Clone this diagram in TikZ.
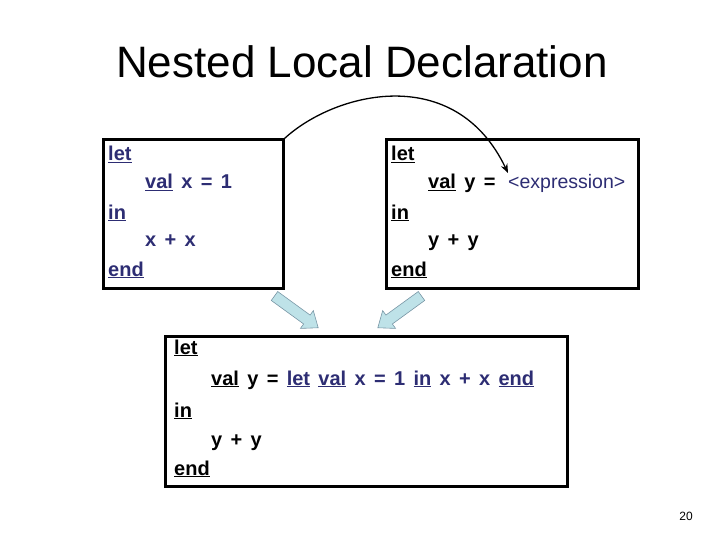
\documentclass[tikz,border=0pt]{standalone}
\usepackage{fontspec}
\setmainfont{Liberation Sans}
\newfontfamily\codefont[WordSpace=1.5]{Liberation Sans}
\usetikzlibrary{arrows.meta}
\definecolor{navy}{RGB}{45,45,115}
\definecolor{arrowfill}{RGB}{190,226,232}
\definecolor{arrowdraw}{RGB}{120,150,165}
\newcommand{\kw}[1]{\underline{#1}}
\tikzset{
  codebox/.style={draw=black, line width=3pt, minimum width=#1, inner sep=0pt, anchor=north west},
  code/.style={anchor=base west, inner sep=0pt, font=\codefont\bfseries\fontsize{20}{22}\selectfont},
  blockarrow/.style={fill=arrowfill, draw=arrowdraw, line width=0.6pt, line join=miter},
  link/.style={line width=1.3pt, -{Stealth[length=9pt,width=7pt]}}
}
\begin{document}
\begin{tikzpicture}[x=1pt,y=-1pt]
\useasboundingbox (0,0) rectangle (720,540);
% title
\node[anchor=base, inner sep=0pt, font=\fontsize{44}{50}\selectfont] (title) at (362,78) {Nested Local Declaration};
% left box
\node[codebox=180pt, minimum height=148pt] (lbox) at (101.5,138.5) {};
\node[code, text=navy] (l1) at (108,161) {\kw{let}};
\node[code, text=navy] (l2) at (145,189) {\kw{val} x = 1};
\node[code, text=navy] (l3) at (108,219) {\kw{in}};
\node[code, text=navy] (l4) at (145,247) {x + x};
\node[code, text=navy] (l5) at (108,276) {\kw{end}};
% right box
\node[codebox=252pt, minimum height=148pt] (rbox) at (384.5,138.5) {};
\node[code] (r1) at (391,161) {\kw{let}};
\node[code] (r2) at (428,189) {\kw{val} y = };
\node[anchor=base west, inner sep=0pt, text=navy, font=\fontsize{19.5}{22}\selectfont] (expr) at (508,189) {<expression>};
\node[code] (r3) at (391,219) {\kw{in}};
\node[code] (r4) at (428,247) {y + y};
\node[code] (r5) at (391,276) {\kw{end}};
% bottom box
\node[codebox=402pt, minimum height=150pt] (bbox) at (164,335) {};
\node[code] (b1) at (174,354) {\kw{let}};
\node[code] (b2) at (211,385) {\kw{val} y = \textcolor{navy}{\kw{let} \kw{val} x = 1 \kw{in} x + x \kw{end}}};
\node[code] (b3) at (174,417) {\kw{in}};
\node[code] (b4) at (211,446) {y + y};
\node[code] (b5) at (174,475) {\kw{end}};
% curved connector
\coordinate (tipexpr) at (508,173);
\draw[link] (lbox.north east) .. controls (335,92) and (455,62) .. (tipexpr);
% block arrows
\draw[blockarrow] (271.27,300.45) -- (303.63,323.97) -- (300.39,328.42) -- (318.19,327.75) -- (313.33,310.62) -- (310.09,315.07) -- (277.73,291.55) -- cycle;
\draw[blockarrow] (424.73,300.45) -- (392.37,323.97) -- (395.61,328.42) -- (377.81,327.75) -- (382.67,310.62) -- (385.91,315.07) -- (418.27,291.55) -- cycle;
% page number
\node[anchor=base, inner sep=0pt, font=\fontsize{12}{14}\selectfont] (pnum) at (686,520) {20};
\end{tikzpicture}
\end{document}
